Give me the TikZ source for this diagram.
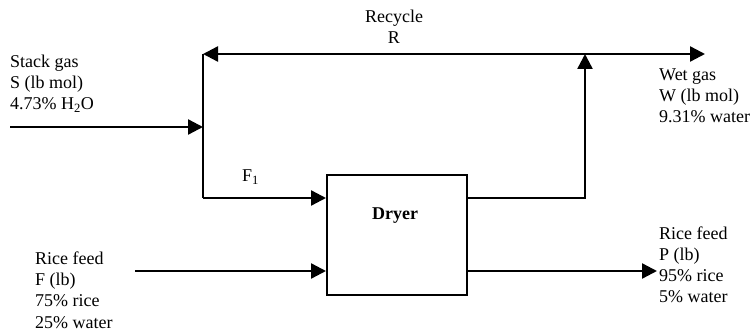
\documentclass[tikz,border=0pt]{standalone}
\usepackage{fontspec}
\setmainfont{Liberation Serif}
\usepackage{tikz}
\usetikzlibrary{shapes,arrows,arrows.meta,positioning,fit}
\usepackage{xcolor}
\definecolor{linecustom}{RGB}{0,0,0}

\tikzset{
    flow/.style={draw=linecustom, line width=2.4pt, -{Triangle[length=15pt,width=15pt]}},
    pipe/.style={draw=linecustom, line width=2.4pt},
    streamlabel/.style={anchor=base west, inner sep=0pt, align=left, font=\fontsize{18}{21.3}\selectfont},
}

\begin{document}
\begin{tikzpicture}[x=1pt, y=-1pt]
    \useasboundingbox (0,0) rectangle (753,331);

    % unit
    \node[draw=linecustom, rectangle, line width=2pt, minimum width=140pt, minimum height=120pt, inner sep=0pt] (dryer) at (397,235) {};
    \node[anchor=base, inner sep=0pt, font=\fontsize{18}{21.3}\selectfont\bfseries] (dryerlabel) at (395,220) {Dryer};

    % junctions and stream ends
    \coordinate (recL) at (203,54);
    \coordinate (split) at (585,54);
    \coordinate (wetend) at (705,54);
    \coordinate (stackst) at (10,127);
    \coordinate (mix) at (203,127);
    \coordinate (f1) at (203,198);
    \coordinate (feedst) at (135,271);
    \coordinate (prodend) at (657,271);

    % streams
    \draw[flow] (split) -- (recL);
    \draw[flow] (split) -- (wetend);
    \draw[pipe] (recL) -- (f1);
    \draw[flow] (stackst) -- (mix);
    \draw[flow] (f1) -- (f1 -| dryer.west);
    \draw[flow] (dryer.east |- f1) -| (split);
    \draw[flow] (feedst) -- (feedst -| dryer.west);
    \draw[flow] (dryer.east |- prodend) -- (prodend);

    % labels (base = last line)
    \node[anchor=base, inner sep=0pt, align=center, font=\fontsize{18}{21.3}\selectfont] (reclabel) at (394,44) {Recycle\\R};
    \node[streamlabel] (stacklabel) at (10,110) {Stack gas\\S (lb mol)\\4.73\% H\textsubscript{2}O};
    \node[streamlabel] (f1label) at (242,182) {F\textsubscript{1}};
    \node[streamlabel] (feedlabel) at (35,328) {Rice feed\\F (lb)\\75\% rice\\25\% water};
    \node[streamlabel] (wetlabel) at (659,123) {Wet gas\\W (lb mol)\\9.31\% water};
    \node[streamlabel] (prodlabel) at (659,303) {Rice feed\\P (lb)\\95\% rice\\5\% water};
\end{tikzpicture}
\end{document}
